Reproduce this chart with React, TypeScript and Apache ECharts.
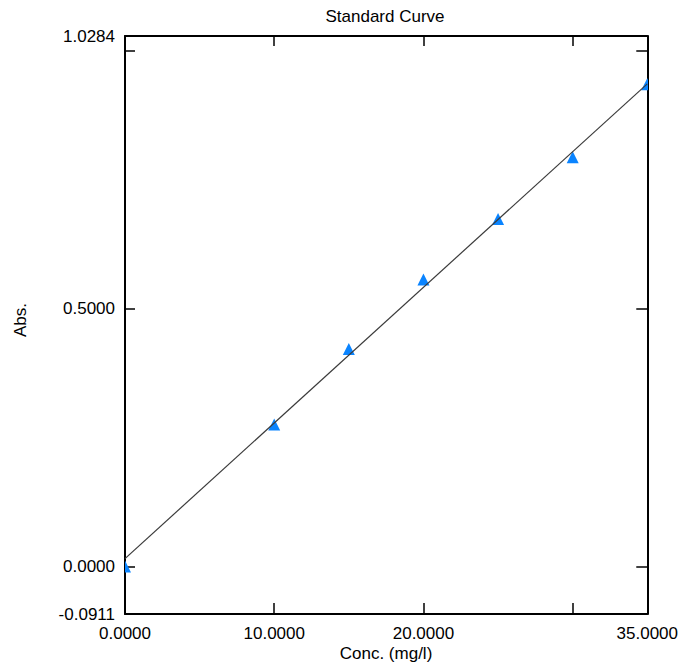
import React, { useEffect, useRef } from "react";
import * as echarts from "echarts";

const chartTitle = "Standard Curve";
const xAxisName = "Conc. (mg/l)";
const yAxisName = "Abs.";

const xMin = 0;
const xMax = 35;
const yMin = -0.0911;
const yMax = 1.0284;

const xTickValues = [10, 20, 30];
const xLabelValues = [0, 10, 20, 35];
const yTickValues = [0, 0.5, 1.0];
const yLabelValues = [-0.0911, 0, 0.5, 1.0284];

const concentrations = [0, 10, 15, 20, 25, 30, 35];
const absorbances = [0.0, 0.275, 0.421, 0.556, 0.673, 0.7925, 0.934];

const fitX = [0, 35];
const fitY = [0.0162, 0.9357];

const FONT = "'Liberation Sans', Arial, sans-serif";

export default function App() {
  const ref = useRef<HTMLDivElement>(null);

  useEffect(() => {
    if (!ref.current) return;
    const chart = echarts.init(ref.current, undefined, { renderer: "svg" });

    const points = concentrations.map((c, i) => [c, absorbances[i]]);
    const fitLine = fitX.map((x, i) => [x, fitY[i]]);

    const axisLine = { show: true, onZero: false, lineStyle: { color: "#000", width: 2 } };
    const fmt = (v: number) => v.toFixed(4);

    chart.setOption({
      animation: false,
      backgroundColor: "#fff",
      grid: { left: 125, top: 36, right: 29, bottom: 48, containLabel: false },
      xAxis: [
        {
          type: "value",
          position: "bottom",
          min: xMin,
          max: xMax,
          axisLine,
          splitLine: { show: false },
          axisTick: {
            show: true,
            inside: true,
            length: 11,
            customValues: xTickValues,
            lineStyle: { color: "#000", width: 1.5 },
          },
          axisLabel: {
            show: true,
            customValues: xLabelValues,
            formatter: fmt,
            margin: 11,
            color: "#000",
            fontFamily: FONT,
            fontSize: 17,
          },
        },
        {
          type: "value",
          position: "top",
          min: xMin,
          max: xMax,
          axisLine,
          splitLine: { show: false },
          axisTick: {
            show: true,
            inside: true,
            length: 10,
            customValues: xTickValues,
            lineStyle: { color: "#000", width: 1.5 },
          },
          axisLabel: { show: false },
        },
      ],
      yAxis: [
        {
          type: "value",
          position: "left",
          min: yMin,
          max: yMax,
          axisLine,
          splitLine: { show: false },
          axisTick: {
            show: true,
            inside: true,
            length: 10,
            customValues: yTickValues,
            lineStyle: { color: "#000", width: 1.5 },
          },
          axisLabel: {
            show: true,
            customValues: yLabelValues,
            formatter: fmt,
            margin: 10,
            color: "#000",
            fontFamily: FONT,
            fontSize: 17,
          },
        },
        {
          type: "value",
          position: "right",
          min: yMin,
          max: yMax,
          axisLine,
          splitLine: { show: false },
          axisTick: {
            show: true,
            inside: true,
            length: 11,
            customValues: yTickValues,
            lineStyle: { color: "#000", width: 1.5 },
          },
          axisLabel: { show: false },
        },
      ],
      series: [
        {
          type: "custom",
          xAxisIndex: 0,
          yAxisIndex: 0,
          clip: true,
          z: 2,
          data: points,
          renderItem: (params: any, api: any) => {
            const p = api.coord([api.value(0), api.value(1)]);
            return {
              type: "polygon",
              shape: {
                points: [
                  [p[0], p[1] - 6.5],
                  [p[0] - 6, p[1] + 5.5],
                  [p[0] + 6, p[1] + 5.5],
                ],
              },
              style: { fill: "#0a84ff" },
            };
          },
        },
        {
          type: "line",
          xAxisIndex: 0,
          yAxisIndex: 0,
          data: fitLine,
          symbol: "none",
          clip: true,
          z: 3,
          lineStyle: { color: "#3a3a3a", width: 1.2 },
        },
      ],
      graphic: [
        {
          type: "text",
          x: 385,
          y: 16.5,
          style: {
            text: chartTitle,
            fill: "#000",
            font: `17px ${FONT}`,
            textAlign: "center",
            textVerticalAlign: "middle",
          },
        },
        {
          type: "text",
          x: 386,
          y: 653,
          style: {
            text: xAxisName,
            fill: "#000",
            font: `17px ${FONT}`,
            textAlign: "center",
            textVerticalAlign: "middle",
          },
        },
        {
          type: "text",
          x: 20,
          y: 320,
          rotation: Math.PI / 2,
          style: {
            text: yAxisName,
            fill: "#000",
            font: `17px ${FONT}`,
            textAlign: "center",
            textVerticalAlign: "middle",
          },
        },
      ],
    });

    return () => chart.dispose();
  }, []);

  return (
    <div
      ref={ref}
      style={{ position: "absolute", left: 0, top: 0, width: 681, height: 662 }}
    />
  );
}
